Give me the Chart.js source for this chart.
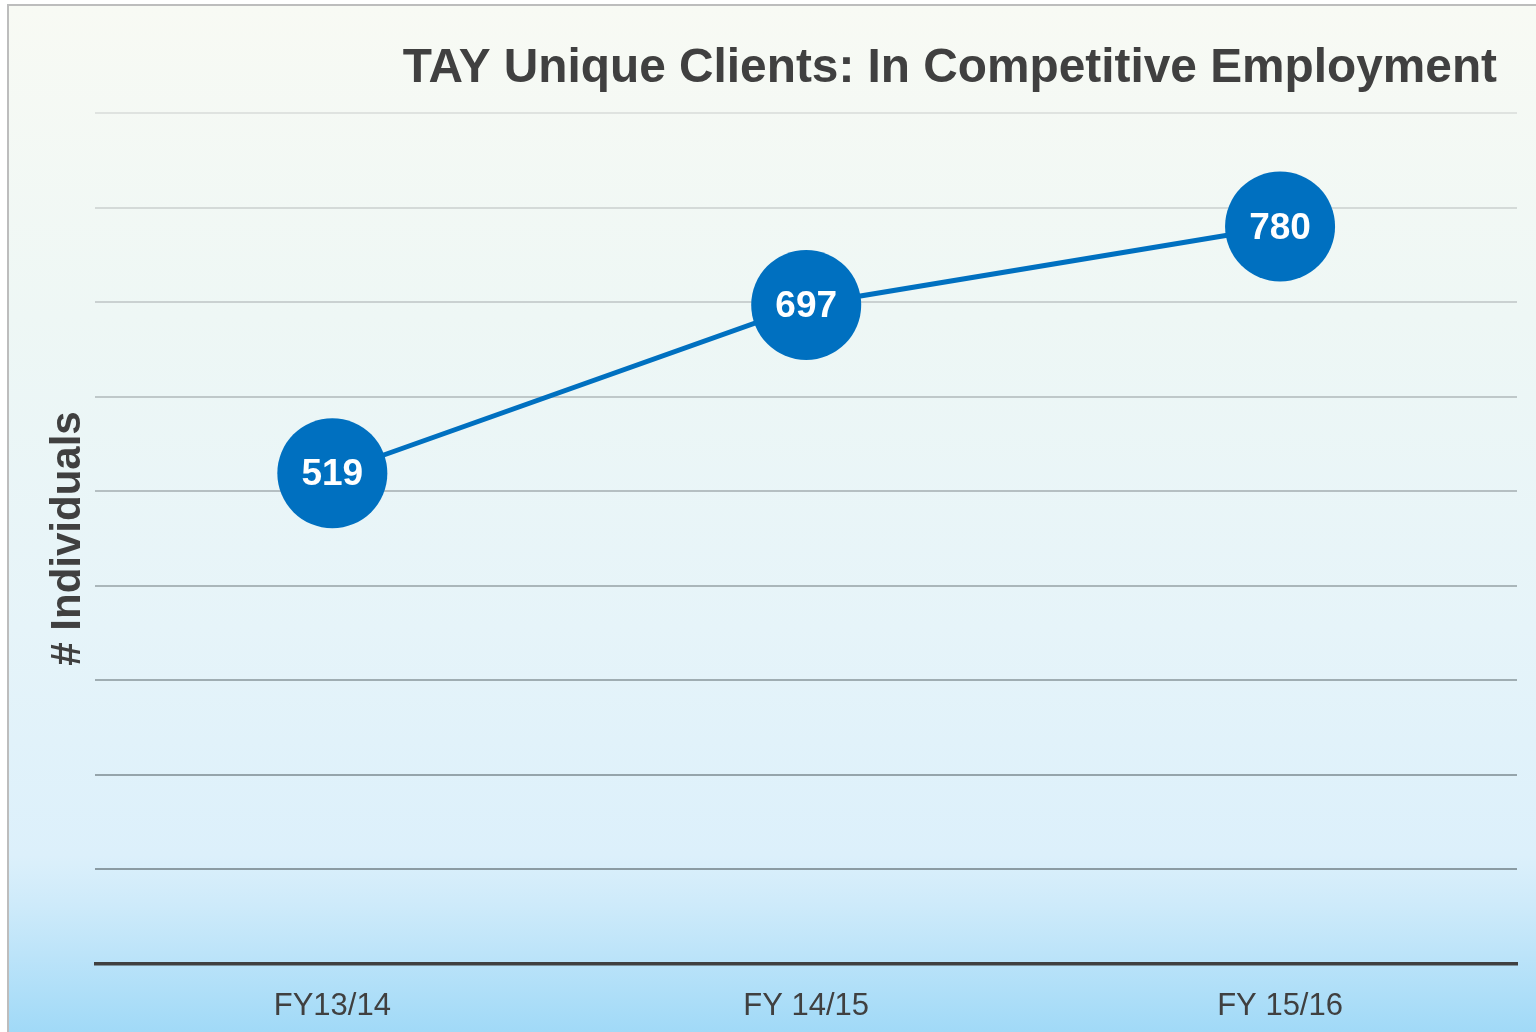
<!DOCTYPE html>
<html>
<head>
<meta charset="utf-8">
<script src="https://cdn.jsdelivr.net/npm/chart.js@4/dist/chart.umd.min.js"></script>
<style>
  html, body { margin: 0; padding: 0; width: 1536px; height: 1032px; overflow: hidden; background: #ffffff; }
  #frame {
    position: absolute; left: 7px; top: 4px; width: 1540px; height: 1040px;
    border: 2px solid #bdbdbd; box-sizing: border-box;
    background: linear-gradient(to bottom, #f8faf4 0%, #eef7f5 30%, #e6f4f9 60%, #dcf0fb 82%, #cdeafa 87%, #9dd8f7 100%);
  }
  #wrap { position: absolute; left: 0; top: 0; width: 1536px; height: 1032px; }
</style>
</head>
<body>
<div id="frame"></div>
<div id="wrap"><canvas id="c" width="1536" height="1032"></canvas></div>
<script>
const chartTitle = 'TAY Unique Clients: In Competitive Employment';
const yAxisTitle = '# Individuals';
const categories = ['FY13/14', 'FY 14/15', 'FY 15/16'];
const clientCounts = [519, 697, 780];
const yMin = 0;
const yMax = 900;
const yStep = 100;

function lerpColor(a, b, t) {
  const pa = [parseInt(a.slice(1,3),16), parseInt(a.slice(3,5),16), parseInt(a.slice(5,7),16)];
  const pb = [parseInt(b.slice(1,3),16), parseInt(b.slice(3,5),16), parseInt(b.slice(5,7),16)];
  const r = pa.map((v, i) => Math.round(v + (pb[i] - v) * t));
  return 'rgb(' + r.join(',') + ')';
}

const titlePlugin = {
  id: 'rightTitle',
  afterDraw(chart) {
    const ctx = chart.ctx;
    ctx.save();
    ctx.font = 'bold 47.8px "Liberation Sans", Arial, sans-serif';
    ctx.fillStyle = '#404040';
    ctx.textAlign = 'right';
    ctx.textBaseline = 'alphabetic';
    ctx.fillText(chartTitle, 1497, 82);
    ctx.restore();
  }
};

const pointLabels = {
  id: 'pointLabels',
  afterDatasetsDraw(chart) {
    const ctx = chart.ctx;
    const meta = chart.getDatasetMeta(0);
    ctx.save();
    ctx.font = 'bold 37px "Liberation Sans", Arial, sans-serif';
    ctx.fillStyle = '#ffffff';
    ctx.textAlign = 'center';
    ctx.textBaseline = 'middle';
    meta.data.forEach((pt, i) => {
      ctx.fillText(String(chart.data.datasets[0].data[i]), pt.x, pt.y + 2);
    });
    ctx.restore();
  }
};

new Chart(document.getElementById('c'), {
  type: 'line',
  data: {
    labels: categories,
    datasets: [{
      data: clientCounts,
      borderColor: '#0070c0',
      borderWidth: 5,
      backgroundColor: '#0070c0',
      pointBackgroundColor: '#0070c0',
      pointBorderWidth: 0,
      pointRadius: 55,
      pointHoverRadius: 55,
      tension: 0,
      clip: false
    }]
  },
  options: {
    responsive: false,
    animation: false,
    events: [],
    layout: { autoPadding: false, padding: { top: 113, left: 39, right: 19, bottom: 8 } },
    plugins: {
      legend: { display: false },
      title: { display: false },
      tooltip: { enabled: false }
    },
    scales: {
      x: {
        offset: true,
        afterFit(scale) {
          scale.height = 60;
        },
        grid: { display: false, drawTicks: false },
        border: { display: true, color: '#404040', width: 3.5 },
        ticks: {
          color: '#404040',
          padding: 24,
          font: { family: '"Liberation Sans", Arial, sans-serif', size: 31 }
        }
      },
      y: {
        min: yMin,
        max: yMax,
        ticks: { display: false, stepSize: yStep },
        border: { display: false },
        grid: {
          drawTicks: false,
          lineWidth: 2,
          color: (c) => {
            const v = c.tick ? c.tick.value : 0;
            if (v <= yMin) return 'rgba(0,0,0,0)';
            const t = (yMax - v) / (yMax - yStep);
            return lerpColor('#dfe3e0', '#8a9ba3', t);
          }
        },
        title: {
          display: true,
          text: yAxisTitle,
          color: '#404040',
          padding: { top: 4, bottom: 2 },
          font: { family: '"Liberation Sans", Arial, sans-serif', size: 42, weight: 'bold' }
        }
      }
    }
  },
  plugins: [titlePlugin, pointLabels]
});
</script>
</body>
</html>
